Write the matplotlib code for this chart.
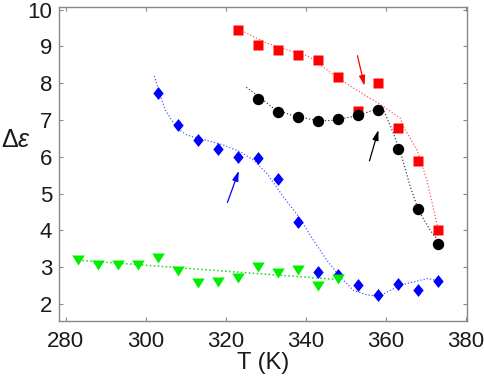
import matplotlib
matplotlib.use("Agg")
import matplotlib.pyplot as plt

plt.rcParams['font.family'] = ['Liberation Sans', 'DejaVu Sans']
plt.rcParams['mathtext.fontset'] = 'custom'
plt.rcParams['mathtext.rm'] = 'Liberation Sans'
plt.rcParams['mathtext.it'] = 'Liberation Sans:italic'

# measured points
t_red = [323, 328, 333, 338, 343, 348, 353, 358, 363, 368, 373]
de_red = [9.45, 9.05, 8.9, 8.78, 8.63, 8.17, 7.25, 8.0, 6.78, 5.9, 4.02]

t_blk = [328, 333, 338, 343, 348, 353, 358, 363, 368, 373]
de_blk = [7.58, 7.23, 7.07, 6.98, 7.02, 7.14, 7.28, 6.22, 4.57, 3.63]

t_blu = [303, 308, 313, 318, 323, 328, 333, 338, 343, 348, 353, 358, 363, 368, 373]
de_blu = [7.74, 6.87, 6.45, 6.21, 6.0, 5.96, 5.39, 4.24, 2.88, 2.8, 2.52, 2.24, 2.55, 2.38, 2.63]

t_grn = [283, 288, 293, 298, 303, 308, 313, 318, 323, 328, 333, 338, 343, 348]
de_grn = [3.21, 3.07, 3.07, 3.05, 3.25, 2.89, 2.58, 2.61, 2.72, 3.0, 2.84, 2.92, 2.48, 2.69]

# guide curves
fit_red_t = [322.5, 325.25, 330.25, 335.25, 340.25, 341.9, 346.9, 351.9, 356.1, 359.4,
             363.6, 364.4, 367.75, 370.25, 372.75, 373.2]
fit_red_y = [9.52, 9.36, 9.09, 8.91, 8.75, 8.64, 8.23, 7.87, 7.59, 7.37,
             7.05, 6.82, 6.19, 5.37, 4.19, 3.95]

fit_blk_t = [325.1, 327.75, 331.9, 336.1, 343, 346.7, 353, 358, 359.4, 361.9,
             364, 366.1, 368.15, 371.1, 374.4]
fit_blk_y = [7.89, 7.68, 7.32, 7.14, 6.98, 6.99, 7.12, 7.31, 7.28, 6.64,
             6.0, 5.19, 4.55, 4.0, 3.55]

fit_blu_t = [302.1, 304.8, 307.75, 310.25, 314.8, 319.4, 323.6, 326.9, 330.25, 334.4,
             338.25, 341.9, 345.25, 348.6, 351.9, 355.25, 358.15, 361.1, 363.6,
             366.9, 370.25, 373.15]
fit_blu_y = [8.2, 7.28, 6.78, 6.59, 6.46, 6.32, 6.14, 5.91, 5.55, 4.91,
             4.37, 3.73, 3.19, 2.73, 2.37, 2.25, 2.21, 2.37, 2.51,
             2.6, 2.69, 2.64]

fit_grn_t = [283.15, 348.6]
fit_grn_y = [3.19, 2.66]

# arrows: (tail, tip)
arrows = [((352.9, 8.75), (354.65, 7.93), '#ff0000'),
          ((355.9, 5.89), (358.15, 6.73), 'black'),
          ((320.4, 4.76), (323.25, 5.62), '#0000ff')]

diamond = [(0, 1), (0.8, 0), (0, -1), (-0.8, 0), (0, 1)]
tri_down = [(-1, 0.8), (1, 0.8), (0, -0.8), (-1, 0.8)]

fig = plt.figure(figsize=(4.84, 3.83), dpi=100)
ax = fig.add_axes([0.122, 0.162, 0.843, 0.8205])

dots = (1, 1.6)
ax.plot(fit_red_t, fit_red_y, color='#ff5a5a', lw=0.9, dashes=dots)
ax.plot(fit_blk_t, fit_blk_y, color='#444444', lw=0.9, dashes=dots)
ax.plot(fit_blu_t, fit_blu_y, color='#5a5aff', lw=0.9, dashes=dots)
ax.plot(fit_grn_t, fit_grn_y, color='#10dd10', lw=1.1, dashes=dots)

ax.plot(t_red, de_red, 's', color='#ff0000', ms=6.6, mec='none')
ax.plot(t_blk, de_blk, 'o', color='black', ms=8.2, mec='none')
ax.plot(t_blu, de_blu, marker=diamond, ls='none', color='#0000ff', ms=9.3, mec='none')
ax.plot(t_grn, de_grn, marker=tri_down, ls='none', color='#00ee00', ms=9, mec='none')

for tail, tip, c in arrows:
    ax.annotate('', xy=tip, xytext=tail,
                arrowprops=dict(arrowstyle='-|>,head_width=0.18,head_length=0.6',
                                color=c, lw=0.9, shrinkA=0, shrinkB=0))

ax.set_xlim(278.3, 380.3)
ax.set_ylim(1.54, 10.08)
ax.set_xticks([280, 300, 320, 340, 360, 380])
ax.set_yticks([2, 3, 4, 5, 6, 7, 8, 9, 10])

for s in ax.spines.values():
    s.set_color('#888888')
    s.set_linewidth(1)
ax.tick_params(direction='in', length=3, width=0.8, color='#888888',
               top=True, right=True, labelsize=16, labelcolor='#1a1a1a')
ax.tick_params(axis='x', pad=7)
ax.tick_params(axis='y', pad=5)

ax.set_xlabel('T (K)', fontsize=17, color='#1a1a1a', labelpad=0)
ax.set_ylabel(r'$\Delta\varepsilon$', fontsize=18, color='#1a1a1a', rotation=0,
              ha='center', va='center')
ax.yaxis.set_label_coords(-0.105, 0.576)

fig.savefig('out.png', dpi=100)
